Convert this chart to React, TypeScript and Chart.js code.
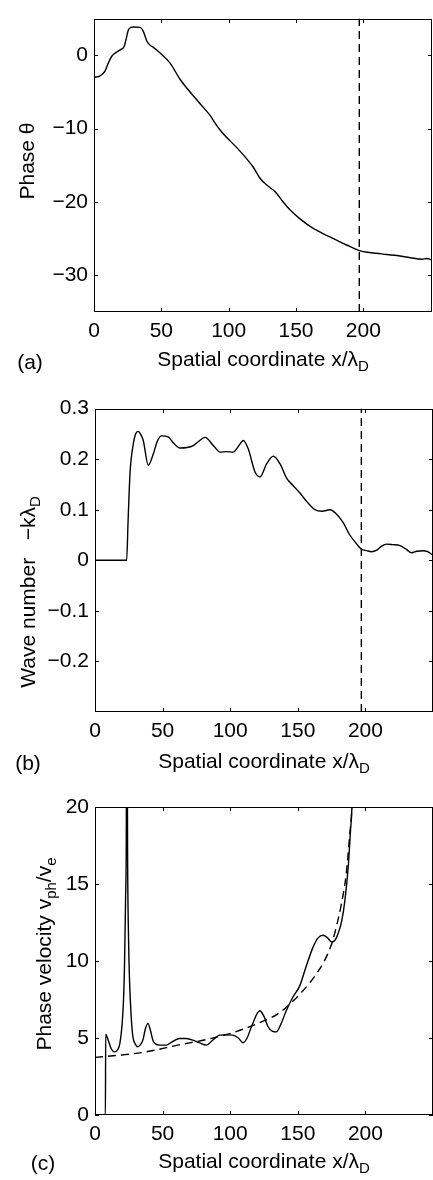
import React, { useEffect, useRef } from 'react';
import { Chart, registerables } from 'chart.js';

Chart.register(...registerables);

const FONT_FAMILY = '"Liberation Sans", Arial, Helvetica, sans-serif';
const FONT_SIZE = 21;
const SUB_SIZE = 15;

// ---------- shared x axis ----------
const X_TICKS = [0, 50, 100, 150, 200];
const MARKER_X = 197;

// ---------- (a) phase ----------
const PHASE_X = [0, 4.5, 8.2, 10.6, 13.2, 16.9, 20.6, 22.3, 23.8, 25.5, 27.5, 29.3, 34.2, 36.7, 39.2, 41.5, 44.1, 49.1, 56.5, 64, 78.8, 86.2, 91.2, 95, 108.6, 118.4, 123.4, 129, 134.6, 140, 145.7, 153, 161.9, 170, 177.9, 188, 196.5, 202.8, 210, 217.6, 225, 235, 243.6, 247, 251];
const PHASE_Y = [-3.0, -2.8, -2.15, -1.07, -0.13, 0.44, 0.87, 1.16, 2.16, 3.45, 3.8, 3.85, 3.8, 3.23, 1.94, 1.4, 1.08, 0.3, -1.07, -3.3, -6.6, -8.2, -9.6, -10.5, -13.1, -15.3, -16.8, -17.8, -18.6, -19.9, -21.1, -22.3, -23.5, -24.3, -25.0, -25.9, -26.6, -26.86, -27.0, -27.17, -27.3, -27.6, -27.8, -27.7, -27.9];
const PHASE_Y_TICKS = [-30, -20, -10, 0];

// ---------- (b) wave number ----------
const WAVE_X = [0, 23.4, 24.5, 25.9, 28.3, 30, 32, 34, 35.7, 39.4, 43.1, 46, 49.3, 54.2, 58, 62.9, 68, 72.7, 77, 81.4, 87.5, 92.5, 97, 102.3, 106, 109.7, 113.4, 118.3, 122, 127, 131.9, 136.8, 141.8, 146.5, 151.6, 157, 162.7, 168, 173.8, 178, 183.7, 188, 193.6, 197, 201, 204.5, 208.4, 212, 215.8, 220, 225.6, 230, 234.2, 238, 242.8, 246, 250];
const WAVE_Y = [0, 0, 0.08, 0.172, 0.23, 0.25, 0.255, 0.248, 0.237, 0.188, 0.21, 0.235, 0.246, 0.244, 0.232, 0.222, 0.223, 0.227, 0.236, 0.243, 0.227, 0.214, 0.215, 0.214, 0.225, 0.237, 0.22, 0.175, 0.165, 0.191, 0.206, 0.191, 0.162, 0.148, 0.133, 0.115, 0.1, 0.097, 0.1, 0.093, 0.074, 0.052, 0.032, 0.022, 0.019, 0.017, 0.02, 0.028, 0.032, 0.031, 0.029, 0.022, 0.015, 0.018, 0.019, 0.017, 0.01];
const WAVE_Y_TICKS = [-0.2, -0.1, 0, 0.1, 0.2, 0.3];

// ---------- (c) phase velocity ----------
const VEL_X = [0, 7.7, 7.9, 10, 12, 14.4, 16.9, 18.5, 20.1, 21.1, 21.9, 22.6, 23.1, 23.6, 24.1, 24.8, 25.6, 26.7, 28, 29.8, 31.7, 33.5, 35.4, 37.3, 39.1, 41, 42.8, 45, 47.8, 52.7, 57, 62.6, 67, 72.4, 77, 82.4, 87, 92.2, 97, 102, 106, 109.5, 112.5, 115.7, 121.9, 125, 128, 131, 134.2, 137.5, 141.6, 146, 151.5, 156, 161.3, 165, 168.7, 172, 175, 177.5, 179.9, 182.5, 184.8, 187.3, 189, 190, 191];
const VEL_Y = [0, 0, 5.25, 4.8, 4.3, 4.1, 4.25, 4.7, 5.95, 7.5, 10.05, 14, 17.2, 30, 17, 11.5, 8.6, 6.5, 5.1, 4.6, 4.43, 4.55, 4.86, 5.6, 5.95, 5.5, 4.86, 4.6, 4.54, 4.54, 4.75, 4.97, 4.97, 4.86, 4.7, 4.54, 4.85, 5.19, 5.2, 5.19, 5.0, 4.69, 5.0, 5.73, 6.77, 6.4, 5.73, 5.45, 5.4, 5.9, 6.8, 7.6, 8.4, 9.6, 10.9, 11.5, 11.67, 11.5, 11.24, 11.35, 11.8, 12.6, 13.9, 16.1, 18.5, 19.9, 24];
const MODEL_X = [0, 20, 38, 62, 85, 102, 115, 127, 135, 146.5, 152, 159, 164, 169, 175, 179, 182, 185.6, 188.5, 190, 191];
const MODEL_Y = [3.74, 3.9, 4.1, 4.55, 4.95, 5.35, 5.75, 6.2, 6.55, 7.4, 7.9, 8.6, 9.2, 9.9, 11.1, 12.4, 13.6, 15.5, 18.3, 20, 23];
const VEL_Y_TICKS = [0, 5, 10, 15, 20];

// ---------- text ----------
type Seg = { t: string; sub?: boolean };
const X_TITLE: Seg[] = [{ t: 'Spatial coordinate x/λ' }, { t: 'D', sub: true }];
const Y_TITLE_A: Seg[] = [{ t: 'Phase θ' }];
const Y_TITLE_B: Seg[] = [{ t: 'Wave number   −kλ' }, { t: 'D', sub: true }];
const Y_TITLE_C: Seg[] = [{ t: 'Phase velocity v' }, { t: 'ph', sub: true }, { t: '/v' }, { t: 'e', sub: true }];

const zip = (xs: number[], ys: number[]) => xs.map((x, i) => ({ x, y: ys[i] }));
const fmt = (v: number) => {
  const s = String(Math.round(v * 1000) / 1000);
  return s.replace('-', '\u2212');
};

function drawSegs(ctx: CanvasRenderingContext2D, segs: Seg[], cx: number, cy: number, rot: number) {
  ctx.save();
  ctx.translate(cx, cy);
  ctx.rotate(rot);
  ctx.fillStyle = '#000';
  ctx.textAlign = 'left';
  ctx.textBaseline = 'alphabetic';
  const widths = segs.map((s) => {
    ctx.font = `${s.sub ? SUB_SIZE : FONT_SIZE}px ${FONT_FAMILY}`;
    return ctx.measureText(s.t).width;
  });
  const total = widths.reduce((a, b) => a + b, 0);
  const base = (0.716 * FONT_SIZE) / 2;
  let x = -total / 2;
  segs.forEach((s, i) => {
    ctx.font = `${s.sub ? SUB_SIZE : FONT_SIZE}px ${FONT_FAMILY}`;
    ctx.fillText(s.t, x, s.sub ? base + 5 : base);
    x += widths[i];
  });
  ctx.restore();
}

type Spec = {
  top: number;
  height: number;
  padTop: number;
  padRight: number;
  yAxisWidth: number;
  xAxisHeight: number;
  xMax: number;
  yMin: number;
  yMax: number;
  yTicks: number[];
  yTitle: Seg[];
  yTitlePos: [number, number];
  label: string;
  labelPos: [number, number];
  xTitleY: number;
  datasets: any[];
};

const lineStyle = {
  borderColor: '#000',
  borderWidth: 1.4,
  pointRadius: 0,
  showLine: true,
  fill: false,
  cubicInterpolationMode: 'monotone' as const,
};

const dashedStyle = { ...lineStyle, borderDash: [8, 5] };

const SPECS: Spec[] = [
  {
    top: 0, height: 390, padTop: 3, padRight: 1, yAxisWidth: 94, xAxisHeight: 78,
    xMax: 251, yMin: -35, yMax: 5, yTicks: PHASE_Y_TICKS,
    yTitle: Y_TITLE_A, yTitlePos: [26.5, 161], label: '(a)', labelPos: [30, 361], xTitleY: 358.5,
    datasets: [
      { ...lineStyle, data: zip(PHASE_X, PHASE_Y) },
      { ...dashedStyle, cubicInterpolationMode: 'default', tension: 0, data: [{ x: MARKER_X, y: -35 }, { x: MARKER_X, y: 5 }] },
    ],
  },
  {
    top: 390, height: 390, padTop: 14, padRight: 0, yAxisWidth: 95, xAxisHeight: 68,
    xMax: 250, yMin: -0.3, yMax: 0.3, yTicks: WAVE_Y_TICKS,
    yTitle: Y_TITLE_B, yTitlePos: [27, 202], label: '(b)', labelPos: [28, 372], xTitleY: 370,
    datasets: [
      { ...lineStyle, data: zip(WAVE_X, WAVE_Y) },
      { ...dashedStyle, cubicInterpolationMode: 'default', tension: 0, data: [{ x: MARKER_X, y: -0.3 }, { x: MARKER_X, y: 0.3 }] },
    ],
  },
  {
    top: 780, height: 400, padTop: 27, padRight: 0, yAxisWidth: 95, xAxisHeight: 65,
    xMax: 250, yMin: 0, yMax: 20, yTicks: VEL_Y_TICKS,
    yTitle: Y_TITLE_C, yTitlePos: [43, 174], label: '(c)', labelPos: [43, 382], xTitleY: 380,
    datasets: [
      { ...lineStyle, data: zip(VEL_X, VEL_Y) },
      { ...dashedStyle, data: zip(MODEL_X, MODEL_Y) },
    ],
  },
];

function Panel({ spec }: { spec: Spec }) {
  const ref = useRef<HTMLCanvasElement>(null);
  useEffect(() => {
    const canvas = ref.current!;
    const decor = {
      id: 'decor',
      afterDraw(chart: any) {
        const { ctx, chartArea: a, scales } = chart;
        ctx.save();
        ctx.strokeStyle = '#000';
        ctx.lineWidth = 1;
        const L = Math.round(a.left), R = Math.round(a.right), T = Math.round(a.top), B = Math.round(a.bottom);
        ctx.strokeRect(L + 0.5, T + 0.5, R - L - 1, B - T - 1);
        const TL = 4;
        ctx.beginPath();
        for (const v of X_TICKS) {
          const x = Math.round(scales.x.getPixelForValue(v)) + 0.5;
          ctx.moveTo(x, B); ctx.lineTo(x, B - TL);
          ctx.moveTo(x, T); ctx.lineTo(x, T + TL);
        }
        for (const v of spec.yTicks) {
          const y = Math.round(scales.y.getPixelForValue(v)) + 0.5;
          ctx.moveTo(L, y); ctx.lineTo(L + TL, y);
          ctx.moveTo(R, y); ctx.lineTo(R - TL, y);
        }
        ctx.stroke();
        drawSegs(ctx, X_TITLE, (a.left + a.right) / 2, spec.xTitleY, 0);
        drawSegs(ctx, spec.yTitle, spec.yTitlePos[0], spec.yTitlePos[1], -Math.PI / 2);
        drawSegs(ctx, [{ t: spec.label }], spec.labelPos[0], spec.labelPos[1], 0);
        ctx.restore();
      },
    };
    const tickFont = { family: FONT_FAMILY, size: FONT_SIZE };
    const chart = new Chart(canvas, {
      type: 'scatter',
      data: { datasets: spec.datasets },
      options: {
        responsive: false,
        animation: false,
        events: [],
        layout: { padding: { top: spec.padTop, right: spec.padRight, left: 0, bottom: 0 } },
        plugins: { legend: { display: false }, tooltip: { enabled: false } },
        scales: {
          x: {
            type: 'linear',
            min: 0,
            max: spec.xMax,
            grid: { display: false, drawTicks: false },
            border: { display: false },
            ticks: { autoSkip: false, padding: 7, color: '#000', font: tickFont, maxRotation: 0, callback: (v: any) => fmt(Number(v)) },
            afterBuildTicks: (s: any) => { s.ticks = X_TICKS.map((value) => ({ value })); },
            afterFit: (s: any) => { s.height = spec.xAxisHeight; },
          },
          y: {
            type: 'linear',
            min: spec.yMin,
            max: spec.yMax,
            grid: { display: false, drawTicks: false },
            border: { display: false },
            ticks: { autoSkip: false, padding: 6, color: '#000', font: tickFont, callback: (v: any) => fmt(Number(v)) },
            afterBuildTicks: (s: any) => { s.ticks = spec.yTicks.map((value) => ({ value })); },
            afterFit: (s: any) => { s.width = spec.yAxisWidth; },
          },
        },
      },
      plugins: [decor],
    } as any);
    return () => chart.destroy();
  }, [spec]);
  return (
    <div style={{ position: 'absolute', left: 0, top: spec.top, width: 433, height: spec.height }}>
      <canvas ref={ref} width={433} height={spec.height} style={{ display: 'block', width: 433, height: spec.height }} />
    </div>
  );
}

export default function App() {
  return (
    <div style={{ position: 'absolute', left: 0, top: 0, width: 433, height: 1180, background: '#fff' }}>
      {SPECS.map((s, i) => (
        <Panel key={i} spec={s} />
      ))}
    </div>
  );
}
